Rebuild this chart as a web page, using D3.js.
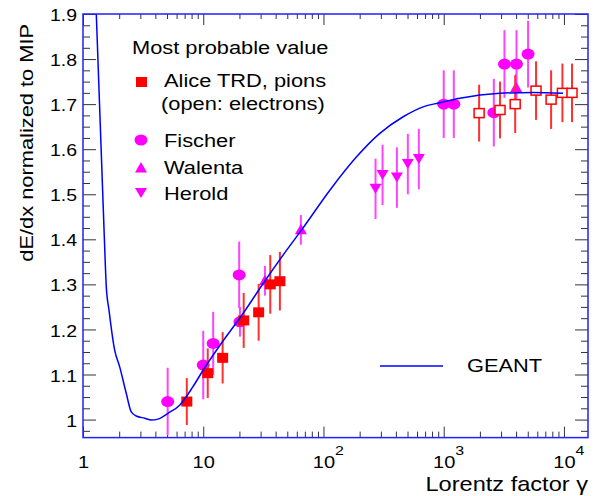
<!DOCTYPE html>
<html>
<head>
<meta charset="utf-8">
<script src="https://cdn.jsdelivr.net/npm/d3@7"></script>
<style>
  body { margin: 0; background: #fff; }
  text { font-family: "Liberation Sans", Arial, sans-serif; fill: #000; }
</style>
</head>
<body>
<div id="chart"></div>
<script>
// Lorentz factor (gamma) and most probable dE/dx values
var aliceG = [7.3, 10.9, 14.5, 21.7, 28.9, 36.1, 43.4];
var aliceV = [1.040, 1.103, 1.137, 1.220, 1.238, 1.300, 1.307];
var aliceE = [0.052, 0.055, 0.057, 0.061, 0.063, 0.065, 0.065];

var elecG = [1970, 2940, 3930, 5860, 7820, 9710, 11670];
var elecV = [1.680, 1.687, 1.700, 1.730, 1.710, 1.725, 1.725];
var elecE = [0.063, 0.063, 0.064, 0.065, 0.065, 0.065, 0.065];

var fischerG = [5.06, 10.0, 12.1, 19.9, 20.2, 1000, 1213, 2610, 3200, 4030, 5030];
var fischerV = [1.040, 1.121, 1.169, 1.321, 1.217, 1.700, 1.700, 1.681, 1.789, 1.789, 1.811];
var fischerE = [0.075, 0.076, 0.070, 0.074, 0.033, 0.075, 0.075, 0.075, 0.075, 0.075, 0.074];

var walentaG = [32.6, 64.9, 4000];
var walentaV = [1.308, 1.421, 1.737];
var walentaE = [0.033, 0.033, 0.030];

var heroldG = [271, 310, 408, 503, 621];
var heroldV = [1.512, 1.543, 1.537, 1.567, 1.578];
var heroldE = [0.067, 0.067, 0.067, 0.067, 0.067];

var geantG = [1.29, 1.495, 1.562, 1.645, 1.834, 2.019, 2.291, 2.520, 2.774, 3.258, 3.696, 4.202,
  5.088, 6.366, 8.213, 10.0, 13.77, 21.5, 31.5, 49.4, 65.8, 113, 188.5, 294, 460, 674, 928,
  1361, 2926, 5536, 9829];
var geantV = [1.900, 1.424, 1.295, 1.243, 1.154, 1.117, 1.058, 1.017, 1.008, 1.003, 0.999, 1.001,
  1.014, 1.032, 1.073, 1.110, 1.165, 1.236, 1.302, 1.376, 1.421, 1.509, 1.583, 1.635, 1.672, 1.694, 1.703,
  1.713, 1.724, 1.726, 1.724];

var xMajor = [1, 10, 100, 1000, 10000];
var yMajor = [1.0, 1.1, 1.2, 1.3, 1.4, 1.5, 1.6, 1.7, 1.8, 1.9];
var yLabels = ["1", "1.1", "1.2", "1.3", "1.4", "1.5", "1.6", "1.7", "1.8", "1.9"];

var svgWidth = 597, svgHeight = 496;
var pLeft = 83, pRight = 588, pTop = 14, pBottom = 437.6;
var S = 1.18; // the original font is wider than Arial

var svg = d3.select("#chart").append("svg")
  .attr("width", svgWidth)
  .attr("height", svgHeight);

var x = d3.scaleLog().domain([1, Math.pow(10, 4.2)]).range([pLeft, pRight]);
var y = d3.scaleLinear().domain([0.96, 1.9]).range([pBottom, pTop]);

// minor ticks
var xMinor = [];
xMajor.forEach(function(d) {
  for (var k = 2; k <= 9; k++) if (d * k < x.domain()[1]) xMinor.push(d * k);
});
var yMinor = d3.range(0.975, 1.9, 0.025).filter(function(v) {
  return Math.abs(v * 10 - Math.round(v * 10)) > 0.01;
});

function styleTicks(g) {
  g.select(".domain").remove();
  g.selectAll(".tick line").attr("stroke", "#333").attr("stroke-width", 1);
}

// bottom axis
svg.append("g")
  .attr("transform", "translate(0," + pBottom + ")")
  .call(d3.axisBottom(x).tickValues(xMinor).tickSizeInner(-6).tickSizeOuter(0).tickFormat(""))
  .call(styleTicks);

var xAx = svg.append("g")
  .attr("transform", "translate(0," + pBottom + ")")
  .call(d3.axisBottom(x).tickValues(xMajor).tickSizeInner(-11).tickSizeOuter(0).tickPadding(18)
    .tickFormat(function(d) { return d < 100 ? String(d) : "10"; }))
  .call(styleTicks);
xAx.selectAll("text")
  .attr("font-size", 17)
  .attr("font-family", null)
  .attr("dy", "0.71em")
  .attr("transform", "scale(" + S + ",1)");
// exponents of 10^n labels
xAx.selectAll(".tick").each(function(d) {
  var e = Math.round(Math.log10(d));
  if (e >= 2) {
    d3.select(this).append("text")
      .attr("transform", "translate(15.5,17.5) scale(" + S + ",1)")
      .attr("font-size", 13.5)
      .attr("fill", "#000")
      .text(e);
  }
});

// top axis
svg.append("g")
  .attr("transform", "translate(0," + pTop + ")")
  .call(d3.axisTop(x).tickValues(xMinor).tickSizeInner(-5).tickSizeOuter(0).tickFormat(""))
  .call(styleTicks);
svg.append("g")
  .attr("transform", "translate(0," + pTop + ")")
  .call(d3.axisTop(x).tickValues(xMajor).tickSizeInner(-11).tickSizeOuter(0).tickFormat(""))
  .call(styleTicks);

// left axis
svg.append("g")
  .attr("transform", "translate(" + pLeft + ",0)")
  .call(d3.axisLeft(y).tickValues(yMinor).tickSizeInner(-7).tickSizeOuter(0).tickFormat(""))
  .call(styleTicks);
var yAx = svg.append("g")
  .attr("transform", "translate(" + pLeft + ",0)")
  .call(d3.axisLeft(y).tickValues(yMajor).tickSizeInner(-13).tickSizeOuter(0).tickPadding(6)
    .tickFormat(function(d, i) { return yLabels[i]; }))
  .call(styleTicks);
yAx.selectAll("text")
  .attr("font-size", 16.5)
  .attr("font-family", null)
  .attr("x", -6 / S)
  .attr("dy", "0.4em")
  .attr("transform", "scale(" + S + ",1)");

// right axis
svg.append("g")
  .attr("transform", "translate(" + pRight + ",0)")
  .call(d3.axisRight(y).tickValues(yMinor).tickSizeInner(-7).tickSizeOuter(0).tickFormat(""))
  .call(styleTicks);
svg.append("g")
  .attr("transform", "translate(" + pRight + ",0)")
  .call(d3.axisRight(y).tickValues(yMajor).tickSizeInner(-13).tickSizeOuter(0).tickFormat(""))
  .call(styleTicks);

// marker shapes
var triUp = "M0,-6L6,4.5L-6,4.5Z";
var triDown = "M0,5L6,-5L-6,-5Z";

function rows(g, v, e) {
  return g.map(function(d, i) { return { g: d, v: v[i], e: e[i] }; });
}

function errorBars(data, color) {
  svg.append("g").selectAll("line")
    .data(data)
    .enter()
    .append("line")
    .attr("x1", function(d) { return x(d.g); })
    .attr("x2", function(d) { return x(d.g); })
    .attr("y1", function(d) { return y(d.v - d.e); })
    .attr("y2", function(d) { return y(d.v + d.e); })
    .attr("stroke", color)
    .attr("stroke-width", 2);
}

var fischer = rows(fischerG, fischerV, fischerE);
var walenta = rows(walentaG, walentaV, walentaE);
var herold = rows(heroldG, heroldV, heroldE);
var alice = rows(aliceG, aliceV, aliceE);
var elec = rows(elecG, elecV, elecE);

errorBars(fischer, "#ff44ff");
errorBars(walenta, "#ff44ff");
errorBars(herold, "#ff44ff");

svg.append("g").selectAll("ellipse")
  .data(fischer)
  .enter()
  .append("ellipse")
  .attr("cx", function(d) { return x(d.g); })
  .attr("cy", function(d) { return y(d.v); })
  .attr("rx", 6.5)
  .attr("ry", 5.5)
  .attr("fill", "#ff00ff");

svg.append("g").selectAll("path")
  .data(walenta)
  .enter()
  .append("path")
  .attr("d", triUp)
  .attr("transform", function(d) { return "translate(" + x(d.g) + "," + y(d.v) + ")"; })
  .attr("fill", "#ff00ff");

svg.append("g").selectAll("path")
  .data(herold)
  .enter()
  .append("path")
  .attr("d", triDown)
  .attr("transform", function(d) { return "translate(" + x(d.g) + "," + y(d.v) + ")"; })
  .attr("fill", "#ff00ff");

errorBars(alice, "#ff3030");
errorBars(elec, "#ff3030");

svg.append("g").selectAll("rect")
  .data(alice)
  .enter()
  .append("rect")
  .attr("x", function(d) { return x(d.g) - 5.5; })
  .attr("y", function(d) { return y(d.v) - 5; })
  .attr("width", 11)
  .attr("height", 10)
  .attr("fill", "#ff0000");

svg.append("g").selectAll("rect")
  .data(elec)
  .enter()
  .append("rect")
  .attr("x", function(d) { return x(d.g) - 5; })
  .attr("y", function(d) { return y(d.v) - 4.5; })
  .attr("width", 10)
  .attr("height", 9)
  .attr("fill", "#fff")
  .attr("stroke", "#ff0000")
  .attr("stroke-width", 1.5);

// GEANT curve
var line = d3.line()
  .x(function(d) { return x(d[0]); })
  .y(function(d) { return y(d[1]); })
  .curve(d3.curveMonotoneX);

svg.append("path")
  .datum(geantG.map(function(d, i) { return [d, geantV[i]]; }))
  .attr("d", line)
  .attr("fill", "none")
  .attr("stroke", "#0000ff")
  .attr("stroke-width", 1.5);

// frame
svg.append("rect")
  .attr("x", pLeft)
  .attr("y", pTop)
  .attr("width", pRight - pLeft)
  .attr("height", pBottom - pTop)
  .attr("fill", "none")
  .attr("stroke", "#2020ff")
  .attr("stroke-width", 1.5);

function label(px, py, str, size, anchor) {
  return svg.append("text")
    .attr("transform", "translate(" + px + "," + py + ") scale(" + S + ",1)")
    .attr("font-size", size)
    .attr("text-anchor", anchor || "start")
    .text(str);
}

// axis titles
label(588, 491, "Lorentz factor \u03b3", 20, "end");
svg.append("text")
  .attr("transform", "translate(33,24) rotate(-90) scale(" + S + ",1)")
  .attr("font-size", 18.5)
  .attr("text-anchor", "end")
  .text("dE/dx normalized to MIP");

// legend
label(132, 54, "Most probable value", 18.5);
svg.append("rect").attr("x", 136).attr("y", 77).attr("width", 11).attr("height", 10).attr("fill", "#ff0000");
label(164, 87, "Alice TRD, pions", 18.5);
label(161, 109.5, "(open: electrons)", 18.5);
svg.append("ellipse").attr("cx", 141).attr("cy", 140).attr("rx", 6.5).attr("ry", 5.5).attr("fill", "#ff00ff");
label(164, 147, "Fischer", 18.5);
svg.append("path").attr("d", triUp).attr("transform", "translate(141,168)").attr("fill", "#ff00ff");
label(164, 174, "Walenta", 18.5);
svg.append("path").attr("d", triDown).attr("transform", "translate(141,193)").attr("fill", "#ff00ff");
label(164, 200, "Herold", 18.5);

svg.append("line").attr("x1", 380).attr("x2", 443).attr("y1", 366).attr("y2", 366)
  .attr("stroke", "#0000ff").attr("stroke-width", 1.5);
label(467, 372, "GEANT", 18.5);
</script>
</body>
</html>
